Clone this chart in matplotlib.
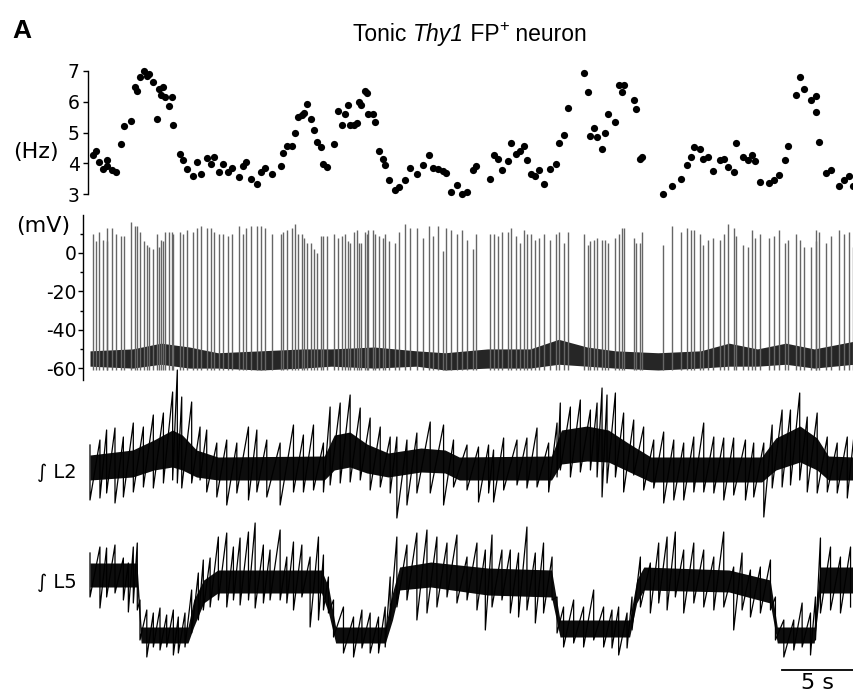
import numpy as np
import matplotlib
matplotlib.use('Agg')
import matplotlib.pyplot as plt

plt.rcParams['font.family'] = ['DejaVu Sans']
plt.rcParams['axes.unicode_minus'] = False

# instantaneous firing rate (time in s, rate in Hz)
dot_t = [0.19, 0.40, 0.66, 0.89, 1.18, 1.22, 1.55, 1.81, 2.21, 2.40,
         2.87, 3.17, 3.33, 3.52, 3.81, 4.00, 4.18, 4.42, 4.74, 4.88,
         4.98, 5.17, 5.29, 5.59, 5.76, 5.87, 6.34, 6.53, 6.86, 7.28,
         7.52, 7.84, 8.22, 8.51, 8.74, 9.11, 9.35, 9.73, 9.99, 10.48,
         10.76, 10.99, 11.32, 11.79, 12.03, 12.33, 12.80, 13.44, 13.62, 13.90,
         14.21, 14.45, 14.68, 14.92, 15.08, 15.31, 15.55, 15.79, 15.98, 16.26,
         16.40, 16.72, 17.19, 17.43, 17.74, 17.97, 18.20, 18.32, 18.60, 18.79,
         18.91, 19.08, 19.38, 19.54, 19.61, 19.92, 20.08, 20.37, 20.63, 20.79,
         21.09, 21.49, 21.73, 22.20, 22.55, 23.02, 23.45, 23.84,
         24.19, 24.54, 24.85, 25.09, 25.42, 25.88, 26.19, 26.55, 26.97, 27.20,
         28.14, 28.47, 28.70, 29.01, 29.41, 29.65, 30.02, 30.25, 30.53, 30.77,
         31.06, 31.36, 31.62, 31.99, 32.42, 32.84, 33.03, 33.35, 33.64, 34.76,
         35.05, 35.24, 35.52, 35.71, 36.06, 36.29, 36.46, 37.00, 37.23, 37.47,
         37.63, 38.29, 38.48, 38.71, 38.88, 40.36, 40.99, 41.63, 42.05, 42.33,
         42.56, 42.94, 43.18, 43.50, 43.88, 44.35, 44.68, 44.91, 45.33, 45.52,
         46.00, 46.32, 46.63, 46.86, 47.17, 47.80, 48.15, 48.50, 48.91, 49.14,
         49.75, 49.98, 50.27, 50.74, 51.14, 51.16, 51.32, 51.80, 52.20, 52.73,
         53.09, 53.44, 53.75]
dot_hz = [4.28, 4.39, 4.05, 3.81, 4.10, 3.92, 3.78, 3.70, 4.61, 5.20,
          5.39, 6.47, 6.35, 6.79, 7.01, 6.84, 6.90, 6.65, 5.44, 6.40,
          6.21, 6.47, 6.16, 5.85, 6.16, 5.26, 4.30, 4.10, 3.81, 3.59,
          4.05, 3.65, 4.16, 3.97, 4.21, 3.70, 3.99, 3.70, 3.86, 3.56,
          3.90, 4.03, 3.50, 3.32, 3.70, 3.86, 3.65, 3.92, 4.32, 4.57,
          4.57, 4.98, 5.50, 5.56, 5.63, 5.92, 5.45, 5.09, 4.68, 4.52,
          3.99, 3.89, 4.61, 5.70, 5.23, 5.59, 5.89, 5.23, 5.26, 5.30,
          5.99, 5.89, 6.35, 6.27, 5.59, 5.59, 5.34, 4.41, 4.14, 3.94,
          3.46, 3.12, 3.23, 3.46, 3.86, 3.65, 3.94, 4.28,
          3.86, 3.81, 3.75, 3.67, 3.07, 3.30, 2.99, 3.07, 3.78, 3.92,
          3.50, 4.28, 4.14, 3.79, 4.08, 4.65, 4.30, 4.41, 4.56, 4.10,
          3.65, 3.59, 3.78, 3.34, 3.81, 3.99, 4.65, 4.93, 5.81, 6.92,
          6.33, 4.87, 5.15, 4.85, 4.45, 4.98, 5.59, 5.34, 6.54, 6.32,
          6.54, 6.07, 5.78, 4.14, 4.19, 3.01, 3.26, 3.48, 3.95, 4.21,
          4.54, 4.47, 4.14, 4.21, 3.75, 4.10, 4.14, 3.89, 3.73, 4.65,
          4.21, 4.10, 4.28, 4.06, 3.39, 3.37, 3.45, 3.62, 4.10, 4.56,
          6.21, 6.81, 6.40, 6.05, 5.67, 6.18, 4.68, 3.67, 3.78, 3.26,
          3.45, 3.59, 3.26]

# spike peak potentials (mV), one per spike above
spike_peak = [10, 6, 11, 7, 13, 6, 13, 10, 9, 9,
              16, 14, 14, 11, 6, 4, 3, 2, 10, 3,
              7, 6, 11, 11, 11, 10, 11, 10, 12, 11,
              13, 14, 13, 13, 11, 10, 10, 9, 10, 14,
              10, 13, 14, 14, 14, 13, 10, 10, 11, 12,
              13, 15, 10, 10, 8, 5, 5, 2, 0, 9,
              9, 9, 10, 8, 9, 10, 6, 5, 11, 12,
              5, 5, 11, 10, 12, 12, 10, 9, 8,
              10, 6, 5, 11, 15, 13, 13, 8, 14,
              9, 14, 1, 13, 12, 10, 12, 7, 2, 10,
              10, 10, 9, 11, 11, 13, 9, 5, 12, 10,
              10, 7, 8, 10, 7, 10, 11, 5, 11, 10,
              4, 6, 7, 8, 7, 7, 5, 8, 10, 13,
              13, 8, 5, 5, 11, 4, 14, 11, 13, 12,
              12, 10, 4, 7, 8, 7, 10, 15, 13, 9,
              4, 3, 12, 8, 10, 8, 9, 12, 5, 7,
              10, 7, 3, 3, 6, 12, 11, 5, 9, 12,
              10, 11, 3]

# membrane potential between spikes (mV)
vm_t = [0, 3, 5, 7, 9, 12, 15, 17, 20, 23, 25, 28, 31, 33, 35, 37, 40, 43, 45, 47, 49, 51, 53.8]
vm_hi = [-51, -50, -47, -49, -52, -51, -50, -50, -49, -51, -52, -50, -50, -45, -49, -51,
         -52, -51, -47, -50, -47, -50, -46]
vm_lo = [-59, -60, -58, -60, -60, -61, -60, -59, -60, -59, -61, -60, -60, -58, -59, -60,
         -61, -60, -59, -59, -58, -60, -58]

# integrated L2 ventral root (a.u.): peak / trough excursions
l2_t = [0.00, 0.70, 1.17, 1.76, 2.35, 3.05, 3.76, 4.46, 5.17, 5.82,
        6.15, 6.46, 7.16, 7.75, 8.22, 8.93, 9.63, 10.34, 11.16, 11.75,
        12.45, 13.39, 14.33, 15.03, 15.74, 16.44, 16.91, 17.62, 18.32, 19.03,
        19.73, 20.44, 21.14, 21.61, 22.32, 23.02, 23.96, 24.90, 25.60, 26.55,
        27.36, 28.07, 28.42, 29.13, 30.07, 30.77, 31.48, 32.30, 32.89, 33.12,
        33.83, 34.53, 35.24, 35.71, 36.06, 36.41, 37.00, 37.58, 38.29, 38.99,
        39.70, 40.40, 41.11, 41.81, 42.52, 43.22, 43.93, 44.63, 45.33, 46.16,
        46.74, 47.45, 48.04, 48.74, 49.33, 49.98, 50.51, 51.21, 51.92, 52.62,
        53.33, 53.79]
l2_top = [85, 90, 100, 102, 93, 107, 103, 115, 117, 138,
          160, 133, 128, 103, 100, 87, 90, 87, 103, 100,
          90, 87, 105, 95, 105, 87, 123, 127, 135, 122,
          112, 103, 93, 93, 90, 97, 108, 105, 90, 85,
          83, 85, 80, 92, 90, 92, 102, 87, 107, 127,
          123, 130, 120, 127, 142, 135, 137, 117, 110, 103,
          90, 98, 90, 87, 93, 107, 93, 92, 92, 90,
          87, 87, 105, 120, 120, 137, 113, 117, 93, 87,
          93, 93]
l2_bot = [30, 32, 37, 27, 33, 38, 43, 42, 47, 50,
          47, 42, 47, 50, 38, 33, 25, 37, 30, 38,
          33, 25, 38, 38, 40, 38, 45, 47, 48, 50,
          40, 43, 37, 12, 25, 37, 37, 25, 43, 40,
          28, 37, 28, 40, 45, 42, 43, 38, 53, 60,
          53, 58, 60, 53, 33, 47, 53, 38, 55, 40,
          42, 27, 30, 30, 38, 38, 37, 30, 35, 30,
          33, 13, 42, 43, 45, 50, 38, 37, 38, 37,
          32, 33]
l2_core_t = [0, 3.0, 4.5, 5.8, 6.5, 7.5, 9.0, 16.5, 17.2, 18.3, 19.5, 21.0, 23.3, 25.0,
             26.0, 32.5, 33.2, 35.0, 36.5, 38.0, 39.5, 47.3, 48.3, 50.0, 51.2, 52.0, 53.8]
l2_core_hi = [75, 80, 90, 100, 95, 80, 73, 74, 95, 98, 86, 77, 82, 80,
              73, 74, 100, 104, 100, 86, 73, 73, 92, 104, 92, 74, 73]
l2_core_lo = [50, 53, 60, 63, 60, 53, 50, 50, 60, 63, 57, 53, 58, 57,
              50, 50, 66, 69, 68, 58, 48, 48, 60, 68, 60, 50, 50]

# integrated L5 ventral root (a.u.)
l5_t = [0.00, 0.70, 1.17, 1.76, 2.35, 2.70, 3.05, 3.33, 3.52, 4.00,
        4.46, 4.93, 5.40, 5.87, 6.22, 6.69, 7.16, 7.63, 7.98, 8.46,
        9.04, 9.63, 10.10, 10.57, 11.16, 11.63, 12.21, 12.68, 13.39, 13.86,
        14.33, 14.92, 15.50, 16.09, 16.44, 16.79, 17.15, 17.85, 18.56, 19.15,
        19.73, 20.32, 20.79, 21.14, 21.61, 22.32, 23.02, 23.73, 24.43, 25.14,
        25.84, 26.55, 27.25, 27.84, 28.31, 29.01, 29.60, 30.18, 30.77, 31.36,
        31.94, 32.54, 32.89, 33.35, 34.06, 34.76, 35.47, 36.17, 36.76, 37.23,
        37.82, 38.17, 38.76, 39.46, 40.05, 40.64, 41.22, 41.81, 42.52, 43.22,
        43.93, 44.63, 45.33, 45.92, 46.51, 47.21, 47.92, 48.27, 48.86, 49.56,
        50.15, 50.74, 51.09, 51.44, 52.15, 52.85, 53.56]
l5_top = [127, 133, 132, 135, 122, 117, 133, 137, 80, 70,
          67, 72, 65, 70, 63, 67, 90, 107, 120, 122,
          143, 147, 133, 142, 148, 157, 135, 130, 150, 123,
          138, 135, 123, 143, 125, 103, 80, 73, 63, 70,
          67, 63, 73, 103, 143, 135, 147, 150, 143, 137,
          145, 123, 137, 130, 145, 130, 130, 127, 153, 127,
          137, 123, 83, 73, 80, 73, 90, 73, 70, 73,
          67, 83, 123, 117, 137, 143, 148, 130, 137, 130,
          123, 148, 113, 127, 110, 113, 120, 83, 60, 60,
          77, 67, 83, 142, 133, 123, 133]
l5_bot = [83, 72, 83, 87, 80, 68, 77, 70, 40, 23,
          33, 30, 33, 25, 27, 33, 47, 60, 70, 73,
          80, 73, 80, 75, 80, 72, 77, 80, 80, 77,
          70, 83, 53, 60, 70, 67, 43, 27, 23, 32,
          27, 27, 33, 60, 73, 80, 60, 67, 73, 83,
          77, 80, 70, 50, 73, 80, 67, 63, 70, 57,
          67, 80, 47, 33, 37, 33, 40, 33, 32, 25,
          32, 50, 73, 67, 77, 70, 83, 67, 77, 73,
          70, 73, 50, 70, 63, 67, 70, 40, 23, 30,
          33, 25, 40, 67, 70, 67, 73]
l5_core_t = [0, 3.3, 3.6, 6.9, 7.3, 8.0, 9.0, 16.3, 16.8, 17.3, 20.8, 21.3, 21.8,
             24.0, 28.0, 32.5, 33.1, 38.0, 38.5, 39.0, 45.0, 47.9, 48.4, 51.0, 51.4, 53.8]
l5_core_hi = [117, 117, 53, 53, 80, 100, 110, 110, 93, 53, 53, 87, 113,
              118, 112, 110, 60, 60, 100, 113, 110, 100, 53, 53, 113, 113]
l5_core_lo = [93, 93, 37, 37, 53, 77, 87, 87, 67, 37, 37, 60, 90,
              93, 85, 83, 43, 43, 77, 90, 88, 77, 37, 37, 87, 87]

hz_ticks = [3, 4, 5, 6, 7]
mv_ticks = [0, -20, -40, -60]
mv_minor = [10, -10, -30, -50]

W, H = 854, 694
fig = plt.figure(figsize=(W / 100, H / 100), dpi=100)

sec_per_px = 5 / 71.0
t0_px = 90


def px_axes(left, top, right, bottom):
    ax = fig.add_axes([left / W, 1 - bottom / H, (right - left) / W, (bottom - top) / H])
    ax.set_xlim((left - t0_px) * sec_per_px, (right - t0_px) * sec_per_px)
    ax.patch.set_alpha(0)
    for s in ['top', 'right', 'bottom']:
        ax.spines[s].set_visible(False)
    ax.set_xticks([])
    return ax


# firing rate
ax1 = px_axes(88, 71, 854, 194)
ax1.set_ylim(3, 7)
ax1.plot(dot_t, dot_hz, 'o', color='black', ms=5.2, mew=0, clip_on=False)
ax1.set_yticks(hz_ticks)
ax1.tick_params(axis='y', direction='out', length=3.5, width=1, labelsize=13.5, pad=2.5)
ax1.spines['left'].set_linewidth(1)

# membrane potential
ax2 = px_axes(83, 215, 854, 380)
ax2.set_ylim(-66.2, 19.8)
ax2.fill_between(vm_t, vm_lo, vm_hi, color='0.15', lw=0)
ax2.vlines(dot_t, -61, spike_peak, color='0.4', lw=1.0)
ax2.set_yticks(mv_ticks)
ax2.set_yticks(mv_minor, minor=True)
ax2.tick_params(axis='y', which='major', direction='out', length=3.5, width=1, labelsize=13.5, pad=1)
ax2.tick_params(axis='y', which='minor', direction='out', length=2.5, width=1)
ax2.spines['left'].set_linewidth(1)


def nerve(ax, t, top, bot, ct, chi, clo):
    # dense core of the integrated signal plus its peak/trough excursions
    ax.spines['left'].set_visible(False)
    ax.set_yticks([])
    ax.fill_between(ct, clo, chi, color='0.05', lw=0)
    xs = np.repeat(t, 2)
    ys = np.column_stack([top, bot]).ravel()
    ax.plot(xs, ys, color='black', lw=0.9)


ax3 = px_axes(88, 360, 854, 530)
ax3.set_ylim(0, 170)
nerve(ax3, l2_t, l2_top, l2_bot, l2_core_t, l2_core_hi, l2_core_lo)

ax4 = px_axes(88, 500, 854, 680)
ax4.set_ylim(0, 180)
nerve(ax4, l5_t, l5_top, l5_bot, l5_core_t, l5_core_hi, l5_core_lo)

# 5 s scale bar
bar_start = 48.75
ax4.plot([bar_start, bar_start + 5], [10, 10], color='black', lw=1.3, clip_on=False)
ax4.text(bar_start + 2.5, -3, '5 s', ha='center', va='center', fontsize=16, clip_on=False)

# labels
tax = fig.add_axes([0, 0, 1, 1])
tax.axis('off')
tax.text(12 / W, 1 - 38 / H, 'A', fontsize=19, fontweight='bold', va='baseline', ha='left',
         family='Liberation Sans')

tsize = 16.5
t1 = tax.text(353 / W, 1 - 46 / H, 'Tonic ', fontsize=tsize, va='bottom', ha='left',
              family='Liberation Sans')
t2 = tax.annotate('Thy1', xy=(1, 0), xycoords=t1, va='bottom', ha='left', fontsize=tsize,
                  fontstyle='italic', family='Liberation Sans')
t3 = tax.annotate(' FP', xy=(1, 0), xycoords=t2, va='bottom', ha='left', fontsize=tsize,
                  family='Liberation Sans')
t4 = tax.annotate('+', xy=(1, 0.5), xycoords=t3, va='bottom', ha='left', fontsize=12,
                  family='Liberation Sans')
tax.annotate(' neuron', xy=(1, 0), xycoords=(t4, t3), va='bottom', ha='left', fontsize=tsize,
             family='Liberation Sans')

tax.text(36 / W, 1 - 152 / H, '(Hz)', ha='center', va='center', fontsize=16)
tax.text(43 / W, 1 - 226 / H, '(mV)', ha='center', va='center', fontsize=16)
tax.text(57 / W, 1 - 473 / H, '\u222b L2', ha='center', va='center', fontsize=14)
tax.text(57 / W, 1 - 583 / H, '\u222b L5', ha='center', va='center', fontsize=14)

fig.savefig('out.png', dpi=100)
